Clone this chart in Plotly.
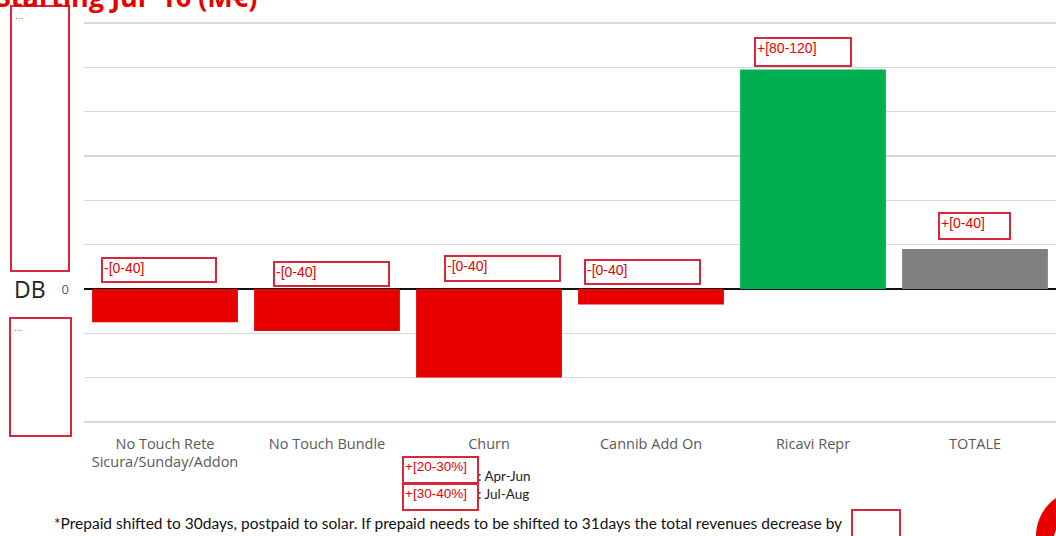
import plotly.graph_objects as go

categories = ["No Touch Rete<br>Sicura/Sunday/Addon", "No Touch Bundle", "Churn",
              "Cannib Add On", "Ricavi Repr", "TOTALE"]
values = [-15, -19, -40, -7, 99, 18]
bar_colors = ["#e60000", "#e60000", "#e60000", "#e60000", "#00b050", "#808080"]
range_labels = ["-[0-40]", "-[0-40]", "-[0-40]", "-[0-40]", "+[80-120]", "+[0-40]"]
grid_vals = [-60, -40, -20, 0, 20, 40, 60, 80, 100, 120]
grid_text = ["", "", "", "0", "", "", "", "", "", ""]
churn_pct = ["+[20-30%]", "+[30-40%]"]
churn_period = ["Apr-Jun", "Jul-Aug"]
title_text = "Starting Jul '16 (M€)"
footnote = ("*Prepaid shifted to 30days, postpaid to solar. If prepaid needs to be "
            "shifted to 31days the total revenues decrease by")

W, H = 1056, 536
L, R, T, B = 84, 0, 10, 113
PW, PH = W - L - R, H - T - B


def px(x):
    return (x - L) / PW


def py(y):
    return (H - B - y) / PH


RED = "#e60000"
BOXRED = "#d9263b"
LABFONT = "Liberation Sans, Arial"

fig = go.Figure()
fig.add_trace(go.Bar(x=categories, y=values, marker=dict(color=bar_colors, line=dict(width=0)),
                     hoverinfo="skip"))

# label boxes (x offset from bar centre, box width, height, gap above bar)
box_style = [(-64, 110, 20, 6), (-54, 111, 20, 2), (-45, 111, 21, 7), (-67, 111, 20, 4),
             (-59, 92, 24, 3), (-37, 67, 22, 9)]
annotations = []
for cat, v, lab, (dx, w, h, gap) in zip(categories, values, range_labels, box_style):
    annotations.append(dict(
        x=cat, y=max(v, 0), xref="x", yref="y", text=lab, showarrow=False,
        xanchor="left", yanchor="bottom", xshift=dx, yshift=gap,
        width=w, height=h, align="left", valign="top",
        bordercolor=BOXRED, borderwidth=2, borderpad=1,
        font=dict(family=LABFONT, size=14, color=RED)))

# Churn sub boxes
period_y = [476, 494]
for i, (pct, per) in enumerate(zip(churn_pct, churn_period)):
    ytop = 456 + i * 27
    annotations.append(dict(
        x=px(476), y=py(period_y[i]), xref="paper", yref="paper", text=": " + per, showarrow=False,
        xanchor="left", yanchor="middle",
        font=dict(family="Lato", size=13.5, color="#222222")))
    annotations.append(dict(
        x=px(402), y=py(ytop), xref="paper", yref="paper", text=pct, showarrow=False,
        xanchor="left", yanchor="top", width=71, height=22, align="left", valign="top",
        bordercolor=BOXRED, borderwidth=2, borderpad=1, bgcolor="rgba(255,255,255,0)",
        font=dict(family=LABFONT, size=13.5, color=RED)))

# DB label
annotations.append(dict(x=px(30), y=py(289), xref="paper", yref="paper", text="DB",
                        showarrow=False, xanchor="center", yanchor="middle",
                        font=dict(family="Open Sans", size=23, color="#222222")))
# placeholder dots
for (x0, y0) in [(13, 8), (12, 320)]:
    annotations.append(dict(x=px(x0), y=py(y0), xref="paper", yref="paper", text="...",
                            showarrow=False, xanchor="left", yanchor="top",
                            font=dict(family="Liberation Sans", size=10, color="#e05060")))
# title (cut off at the top)
annotations.append(dict(x=px(-6), y=py(-3), xref="paper", yref="paper", text="<b>" + title_text + "</b>",
                        showarrow=False, xanchor="left", yanchor="middle",
                        font=dict(family="Open Sans", size=27, color=RED)))
# footnote
annotations.append(dict(x=px(52), y=py(523), xref="paper", yref="paper", text=footnote,
                        showarrow=False, xanchor="left", yanchor="middle",
                        font=dict(family="Lato", size=15.5, color="#111111")))

shapes = [
    dict(type="rect", xref="paper", yref="paper", x0=px(11), x1=px(69), y0=py(271), y1=py(6),
         line=dict(color=BOXRED, width=2)),
    dict(type="rect", xref="paper", yref="paper", x0=px(10), x1=px(71), y0=py(436), y1=py(318),
         line=dict(color=BOXRED, width=2)),
    dict(type="rect", xref="paper", yref="paper", x0=px(852), x1=px(900), y0=py(540), y1=py(510),
         line=dict(color=BOXRED, width=2)),
    dict(type="circle", xref="paper", yref="paper", x0=px(1036), x1=px(1128), y0=py(582), y1=py(490),
         fillcolor=RED, line=dict(width=0)),
    dict(type="circle", xref="paper", yref="paper", x0=px(1053), x1=px(1121), y0=py(578), y1=py(510),
         fillcolor="white", line=dict(width=0)),
]

fig.update_layout(
    width=W, height=H, autosize=False,
    margin=dict(l=L, r=R, t=T, b=B),
    paper_bgcolor="white", plot_bgcolor="white",
    bargap=0.1, showlegend=False,
    annotations=annotations, shapes=shapes,
    xaxis=dict(showgrid=False, showline=False, ticks="", ticklabelstandoff=10,
               tickfont=dict(family="Open Sans", size=14.5, color="#595959"), fixedrange=True),
    yaxis=dict(range=[-60.5, 125.9], tickvals=grid_vals, ticktext=grid_text, showgrid=True,
               gridcolor="#d9d9d9", gridwidth=1.5, zeroline=True, zerolinecolor="#111111",
               zerolinewidth=2, showline=False, ticks="", ticklabelstandoff=14,
               tickfont=dict(family="Open Sans", size=13, color="#595959"), fixedrange=True),
)

fig.write_html("out.html", config={"displayModeBar": False, "staticPlot": True},
               post_script="document.body.style.margin='0';document.body.style.overflow='hidden';")
